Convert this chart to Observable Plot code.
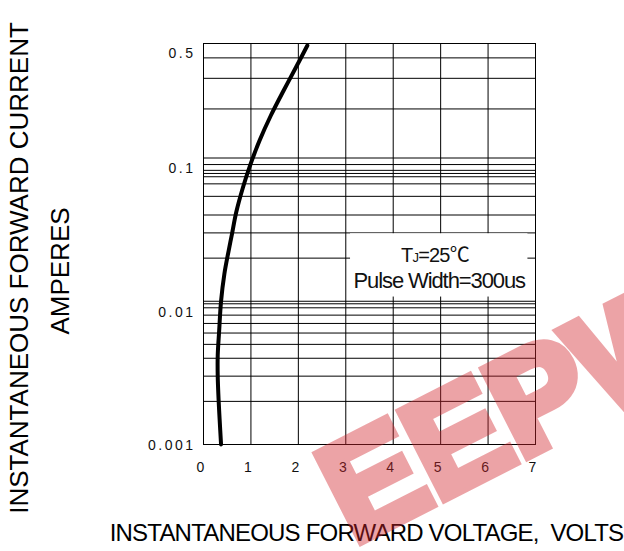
<!DOCTYPE html>
<html>
<head>
<meta charset="utf-8">
<script src="https://cdn.jsdelivr.net/npm/d3@7"></script>
<script src="https://cdn.jsdelivr.net/npm/@observablehq/plot@0.6"></script>
<style>
  html, body { margin: 0; padding: 0; background: #fff; }
</style>
</head>
<body>
<div id="chart"></div>
<script>
// ---- data ----
const voltage = [0.37, 0.34, 0.32, 0.30, 0.30, 0.33, 0.37, 0.44, 0.53, 0.60, 0.69, 0.83, 0.99, 1.18, 1.42, 1.69, 1.97, 2.19];
const current = [0.001, 0.0015, 0.002, 0.003, 0.0042, 0.0062, 0.01, 0.0155, 0.0225, 0.0294, 0.0418, 0.062, 0.0903, 0.132, 0.198, 0.296, 0.442, 0.61];

const xTicks = [0, 1, 2, 3, 4, 5, 6, 7];
const yGrid = [0.001, 0.002, 0.003, 0.004, 0.005, 0.006, 0.007, 0.008, 0.009, 0.0096, 0.01,
               0.02, 0.03, 0.04, 0.054, 0.066, 0.074, 0.078, 0.082, 0.09, 0.1,
               0.22, 0.36, 0.5];
const yLabelTop = [0.5];
const yLabelMid = [0.1, 0.01];
const yLabelBottom = [0.001];

const xTitle = "INSTANTANEOUS FORWARD VOLTAGE,  VOLTS";
const yTitle1 = "INSTANTANEOUS FORWARD CURRENT";
const yTitle2 = "AMPERES";
const noteLine1 = "TJ=25℃";
const noteLine2 = "Pulse Width=300us";
const watermarkText = "EEPW";

// annotation box extent (data units)
const noteBox = [{x1: 3.1, x2: 6.84, y1: 0.0107, y2: 0.0296}];

const curveData = voltage.map((v, i) => ({v, i: current[i]}));
const font = "'Liberation Sans', Arial, Helvetica, sans-serif";
const fmt = d => String(d);
const yLabelOpts = {y: d => d, frameAnchor: "left", textAnchor: "end", dx: -8, fontSize: 14, fill: "#111"};

const chart = Plot.plot({
  width: 624,
  height: 551,
  marginLeft: 203,
  marginRight: 89,
  marginTop: 43,
  marginBottom: 107,
  style: {fontFamily: font, background: "#fff", color: "#000"},
  x: {domain: [0, 7], axis: null},
  y: {type: "log", domain: [0.001, 0.63], axis: null},
  marks: [
    Plot.ruleY(yGrid, {stroke: "#000", strokeWidth: 1}),
    Plot.ruleX(xTicks, {stroke: "#000", strokeWidth: 1}),
    Plot.rect(noteBox, {x1: "x1", x2: "x2", y1: "y1", y2: "y2", fill: "#fff"}),
    Plot.frame({stroke: "#000", strokeWidth: 1}),
    Plot.line(curveData, {x: "v", y: "i", stroke: "#000", strokeWidth: 4, curve: "catmull-rom", strokeLinecap: "round"}),
    Plot.text([noteLine1], {x: 4.88, y: 0.0209, fontSize: 20, fill: "#111"}),
    Plot.text([noteLine2], {x: 4.97, y: 0.0139, fontSize: 22, fill: "#111"}),
    Plot.text(yLabelTop, {...yLabelOpts, text: fmt, dy: -4}),
    Plot.text(yLabelMid, {...yLabelOpts, text: fmt, dy: 11}),
    Plot.text(yLabelBottom, {...yLabelOpts, text: fmt, dy: 1}),
    Plot.text(xTicks, {x: d => d, text: fmt, frameAnchor: "bottom", lineAnchor: "middle", dx: -3, dy: 23, fontSize: 14, fill: "#111"}),
    Plot.text([xTitle], {frameAnchor: "bottom", textAnchor: "middle", dx: -3, dy: 89, lineAnchor: "middle", fontSize: 24, fill: "#000"}),
    Plot.text([yTitle1], {frameAnchor: "left", textAnchor: "middle", rotate: -90, dx: -184, dy: 24, lineAnchor: "middle", fontSize: 26, fill: "#000"}),
    Plot.text([yTitle2], {frameAnchor: "left", textAnchor: "middle", rotate: -90, dx: -143, dy: 27, lineAnchor: "middle", fontSize: 26, fill: "#000"}),
    Plot.text([watermarkText], {frameAnchor: "bottom-left", dx: 150, dy: 100, rotate: -27, textAnchor: "start", lineAnchor: "bottom",
      fontSize: 140, fontWeight: "bold", fontFamily: "'Liberation Sans', Arial, sans-serif",
      fill: "#d2262e", stroke: "#d2262e", strokeWidth: 10, strokeLinejoin: "miter", opacity: 0.42})
  ]
});

// typographic tweaks: small J in T_J, condensed texts, spaced tick labels
chart.querySelectorAll("text").forEach(t => {
  const s = t.textContent;
  if (s === noteLine1) {
    t.innerHTML = 'T<tspan font-size="13">J</tspan>=25<tspan font-family="\'Noto Sans CJK SC\', \'DejaVu Sans\', sans-serif">℃</tspan>';
    t.setAttribute("style", "letter-spacing:-0.8px");
  } else if (s === noteLine2) {
    t.setAttribute("style", "letter-spacing:-1.1px");
  } else if (s === xTitle) {
    t.setAttribute("style", "letter-spacing:-0.8px");
  } else if (/^0\.\d+$/.test(s)) {
    t.setAttribute("style", "letter-spacing:2.5px");
  }
});

document.getElementById("chart").appendChild(chart);
</script>
</body>
</html>
